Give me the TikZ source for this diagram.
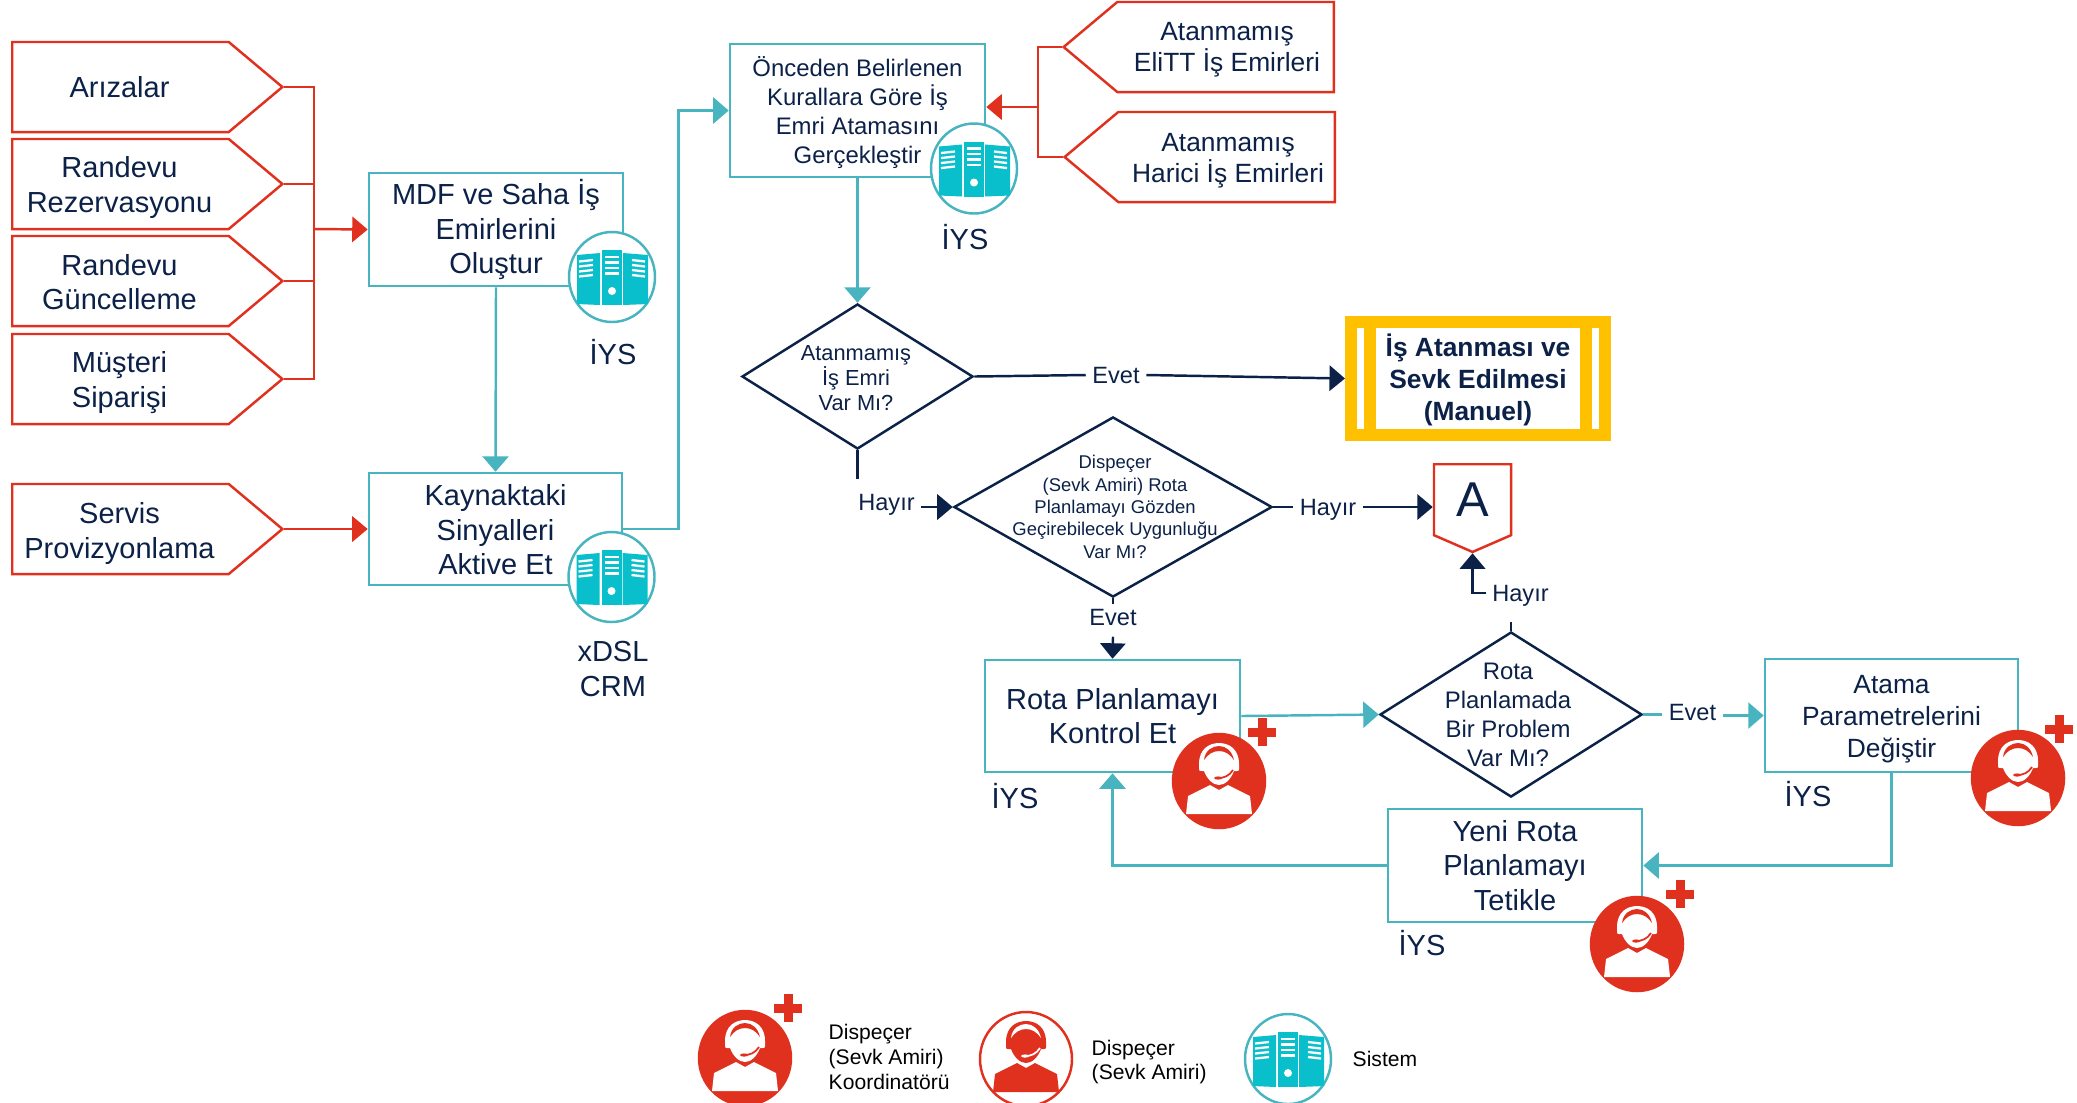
\documentclass[tikz,border=0pt]{standalone}
\usepackage{fontspec}
\setmainfont{Liberation Sans}
\usetikzlibrary{arrows.meta,shapes.geometric,shapes.symbols}

\definecolor{redLine}{HTML}{E0301E}
\definecolor{tealLine}{HTML}{48B4C0}
\definecolor{tealIcon}{HTML}{0ABFCC}
\definecolor{navyLine}{HTML}{0B2148}
\definecolor{yellowBox}{HTML}{FFC000}

\tikzset{
	tagbox/.style={shape=signal,draw=redLine,line width=.7pt,fill=white,minimum height=.9cm,minimum width=2.7cm,
		signal pointer angle=80},
	tagtext/.style={text=navyLine,align=center,inner sep=0pt,font=\fontsize{8.25pt}{9.8pt}\selectfont},
	stepbox/.style={draw=tealLine,line width=.7pt,fill=white,text=navyLine,align=center,inner sep=0pt,
		font=\fontsize{8.25pt}{9.8pt}\selectfont},
	decision/.style={shape=diamond,draw=navyLine,line width=.7pt,inner sep=0pt},
	decisiontext/.style={text=navyLine,align=center,inner sep=0pt},
	edgelabel/.style={text=navyLine,inner xsep=.06cm,inner ysep=0pt,minimum height=.5cm,
		font=\fontsize{6.7pt}{8pt}\selectfont},
	systemlabel/.style={text=navyLine,align=center,font=\fontsize{8.25pt}{9.8pt}\selectfont},
	legendlabel/.style={text=black,align=left,anchor=west,inner sep=0pt,font=\fontsize{6pt}{7.1pt}\selectfont},
	tealline/.style={draw=tealLine,line width=.7pt},
	tealarrow/.style={tealline,-{Triangle[length=4.4pt,width=7.4pt]}},
	redline/.style={draw=redLine,line width=.7pt},
	redarrow/.style={redline,-{Triangle[length=4.4pt,width=7.2pt]}},
	navyline/.style={draw=navyLine,line width=.7pt},
	navyarrow/.style={navyline,-{Triangle[length=4.4pt,width=7.2pt]}}
}

\begin{document}
\begin{tikzpicture}[x=.01cm,y=-.01cm]
	\newcommand{\serverIcon}[2]{
		\begin{scope}[shift={(#1,#2)}]
			\filldraw[draw=tealLine,fill=white,line width=.7pt] (0,0) ellipse [x radius=43,y radius=45];
			\fill[tealIcon] (-35,-22) -- (-12,-24) -- (-12,28) -- (-35,27) -- cycle;
			\fill[tealIcon] (-10,-27) rectangle (10,28);
			\fill[tealIcon] (11,-24) -- (36,-22) -- (36,27) -- (11,28) -- cycle;
			\draw[white,line width=.65pt] (-7,-20)--(7,-20) (-7,-14.5)--(7,-14.5) (-7,-9)--(7,-9) (-7,-3.5)--(7,-3.5);
			\draw[white,line width=.65pt] (-33,-15.5)--(-19,-17) (-33,-10.5)--(-19,-12) (-33,-5.5)--(-19,-7) (-33,-.5)--(-19,-2);
			\draw[white,line width=.65pt] (20,-17)--(33,-15.5) (20,-12)--(33,-10.5) (20,-7)--(33,-5.5) (20,-2)--(33,-.5);
			\fill[white] (0,14) circle (4);
		\end{scope}
	}
	\newcommand{\agentIcon}[4]{
		\begin{scope}[shift={(#1,#2)}]
			\filldraw[draw=redLine,fill=#3,line width=.7pt] (0,0) ellipse [x radius=46,y radius=47];
			% body
			\fill[#4] (-33,33) -- (-31,15) -- (-9,4) -- (0,9) -- (9,4) -- (31,15) -- (33,33) -- cycle;
			% head and ear pads
			\fill[#4] (-20,-17) .. controls (-20,-32) and (-10,-38) .. (0,-38) .. controls (10,-38) and (20,-32) .. (20,-17)
				-- (20,-12) .. controls (20,-10) .. (15,-10) .. controls (12,-2) and (6,4) .. (0,4)
				.. controls (-6,4) and (-12,-2) .. (-15,-10) .. controls (-20,-10) .. (-20,-12) -- cycle;
			% headband and mic
			\fill[#3] (-15,-21) .. controls (-14,-31) and (-6,-35) .. (0,-35) .. controls (7,-35) and (13,-30) .. (15,-21)
				.. controls (11,-27) and (6,-30) .. (0,-30) .. controls (-6,-30) and (-11,-27) .. cycle;
			\draw[#3,line width=.5pt] (14,-11) .. controls (10,-5) and (5,-3) .. (-1,-3);
			\fill[#3] (-1,-3) ellipse [x radius=4,y radius=1.6];
		\end{scope}
	}
	\newcommand{\redPlus}[2]{
		\begin{scope}[shift={(#1,#2)}]
			\fill[redLine] (-14,-4.5) rectangle (14,4.5);
			\fill[redLine] (-4.5,-14) rectangle (4.5,14);
		\end{scope}
	}

	\clip (0,0) rectangle (2077,1102);

	% left tags
	\node[tagbox,signal to=east,anchor=west] (arizalar) at (11,87) {};
	\node[tagtext] (arizalar_text) at (119.5,87) {Arızalar};
	\node[tagbox,signal to=east,anchor=west] (rezervasyon) at (11,184) {};
	\node[tagtext] (rezervasyon_text) at (119.5,187.5) {Randevu\\Rezervasyonu};
	\node[tagbox,signal to=east,anchor=west] (guncelleme) at (11,281) {};
	\node[tagtext] (guncelleme_text) at (119.5,282) {Randevu\\Güncelleme};
	\node[tagbox,signal to=east,anchor=west] (siparis) at (11,379) {};
	\node[tagtext] (siparis_text) at (119.5,382.5) {Müşteri\\Siparişi};
	\node[tagbox,signal to=east,anchor=west] (servis) at (11,529) {};
	\node[tagtext] (servis_text) at (119.5,533.5) {Servis\\Provizyonlama};

	% right tags
	\node[tagbox,signal to=west,anchor=east] (elitt) at (1335,47) {};
	\node[tagtext,font=\fontsize{7.5pt}{8.7pt}\selectfont] (elitt_text) at (1227,49.5) {Atanmamış\\EliTT İş Emirleri};
	\node[tagbox,signal to=west,anchor=east] (harici) at (1336,157) {};
	\node[tagtext,font=\fontsize{7.5pt}{8.7pt}\selectfont] (harici_text) at (1228,160.5) {Atanmamış\\Harici İş Emirleri};

	% steps
	\node[stepbox,minimum width=2.54cm,minimum height=1.13cm] (mdf) at (496,229.5) {MDF ve Saha İş\\Emirlerini\\Oluştur};
	\node[stepbox,minimum width=2.53cm,minimum height=1.12cm] (kaynak) at (495.5,529) {};
	\node[tagtext] (kaynak_text) at (495.5,530) {Kaynaktaki\\Sinyalleri\\Aktive Et};
	\node[stepbox,minimum width=2.55cm,minimum height=1.33cm] (kural) at (857.5,110.5) {};
	\node[decisiontext,font=\fontsize{6.8pt}{8.2pt}\selectfont] (kural_text) at (857.5,112.5) {Önceden Belirlenen\\Kurallara Göre İş\\Emri Atamasını\\Gerçekleştir};
	\node[stepbox,minimum width=2.55cm,minimum height=1.12cm] (kontrol) at (1112.5,716) {Rota Planlamayı\\Kontrol Et};
	\node[stepbox,minimum width=2.53cm,minimum height=1.13cm] (atama) at (1891.5,715.5) {};
	\node[decisiontext,font=\fontsize{7.5pt}{9.1pt}\selectfont] (atama_text) at (1891.5,719) {Atama\\Parametrelerini\\Değiştir};
	\node[stepbox,minimum width=2.54cm,minimum height=1.13cm] (tetikle) at (1515,865.5) {Yeni Rota\\Planlamayı\\Tetikle};

	% decisions
	\node[decision,minimum width=2.31cm,minimum height=1.45cm] (is_emri) at (857.5,376.5) {};
	\node[decisiontext,font=\fontsize{6.2pt}{7.1pt}\selectfont] (is_emri_text) at (856,378) {Atanmamış\\İş Emri\\Var Mı?};
	\node[decision,minimum width=3.18cm,minimum height=1.8cm] (uygunluk) at (1113,507) {};
	\node[decisiontext,font=\fontsize{5.25pt}{6.35pt}\selectfont] (uygunluk_text) at (1115,507) {Dispeçer\\(Sevk Amiri) Rota\\Planlamayı Gözden\\Geçirebilecek Uygunluğu\\Var Mı?};
	\node[decision,minimum width=2.62cm,minimum height=1.65cm] (problem) at (1511,714.5) {};
	\node[decisiontext,font=\fontsize{6.8pt}{8.25pt}\selectfont] (problem_text) at (1508,715) {Rota\\Planlamada\\Bir Problem\\Var Mı?};

	% manual step
	\node[draw=yellowBox,line width=3.4pt,fill=white,minimum width=2.54cm,minimum height=1.13cm] (manuel) at (1478,378.5) {};
	\fill[yellowBox] (1364,328) rectangle (1376,429);
	\fill[yellowBox] (1580,328) rectangle (1592,429);
	\node[text=navyLine,align=center,inner sep=0pt,font=\bfseries\fontsize{7.5pt}{9.1pt}\selectfont] (manuel_text) at (1478,380) {İş Atanması ve\\Sevk Edilmesi\\(Manuel)};

	% off page mark
	\node[shape=signal,signal to=south,signal pointer angle=133,draw=redLine,line width=.7pt,fill=white,
		minimum width=.77cm,minimum height=.76cm,anchor=north] (mark_a) at (1472.5,463) {};
	\node[text=navyLine,inner sep=0pt,font=\fontsize{13.9pt}{15pt}\selectfont] (mark_a_text) at (1472.5,500) {A};

	% edge labels
	\node[edgelabel] (evet_manuel) at (1116,375) {Evet};
	\node[edgelabel] (hayir_left) at (886.5,504.5) {Hayır};
	\node[edgelabel] (hayir_right) at (1328,509.5) {Hayır};
	\node[edgelabel] (hayir_up) at (1520.5,596) {Hayır};
	\node[edgelabel,minimum height=.24cm] (evet_down) at (1113,617) {Evet};
	\node[edgelabel] (evet_right) at (1692.5,712) {Evet};

	\coordinate (left_bus) at (314,229);
	\coordinate (right_bus) at (1038,107);

	% red connectors
	\draw[redline] (arizalar.east) -| (left_bus);
	\draw[redline] (rezervasyon.east) -| (left_bus);
	\draw[redline] (guncelleme.east) -| (left_bus);
	\draw[redline] (siparis.east) -| (left_bus);
	\draw[redarrow] (left_bus) -- (mdf.west);
	\draw[redarrow] (servis.east) -- (kaynak.west);
	\draw[redline] (elitt.west) -| (right_bus);
	\draw[redline] (harici.west) -| (right_bus);
	\draw[redarrow] (right_bus) -- (kural.east |- right_bus);

	% teal connectors
	\draw[tealarrow] (mdf.south) -- (kaynak.north);
	\draw[tealarrow] (kaynak.east) -- ++(55,0) |- (kural.west);
	\draw[tealarrow] (kural.south) -- (is_emri.north);
	\draw[tealarrow] (kontrol.east) -- (problem.west);
	\draw[tealline] (problem.east) -- (evet_right.west |- problem.east);
	\draw[tealarrow] (evet_right.east |- atama.west) -- (atama.west);
	\draw[tealarrow] (atama.south) |- (tetikle.east);
	\draw[tealarrow] (tetikle.west) -| (kontrol.south);

	% navy connectors
	\draw[navyline] (is_emri.east) -- (evet_manuel.west);
	\draw[navyarrow] (evet_manuel.east) -- (manuel.west);
	\draw[navyline] (is_emri.south) -- (is_emri.south |- hayir_left.north);
	\draw[navyarrow] (hayir_left.east |- uygunluk.west) -- (uygunluk.west);
	\draw[navyline] (uygunluk.east) -- (hayir_right.west |- uygunluk.east);
	\draw[navyarrow] (hayir_right.east |- uygunluk.east) -- (mark_a.west |- uygunluk.east);
	\draw[navyline] (uygunluk.south) -- (evet_down.north);
	\draw[navyarrow] ([yshift=-.07cm]evet_down.south) -- (kontrol.north);
	\draw[navyline] (problem.north) -- (problem.north |- hayir_up.south);
	\draw[navyarrow] ([yshift=.03cm]hayir_up.west) -| (mark_a.south);

	% icons
	\serverIcon{612}{277}
	\serverIcon{611.5}{577}
	\serverIcon{974}{168.5}
	\agentIcon{1219}{781}{redLine}{white}
	\redPlus{1262}{732}
	\agentIcon{2018}{778}{redLine}{white}
	\redPlus{2059}{729}
	\agentIcon{1637}{944}{redLine}{white}
	\redPlus{1680}{894}

	% system labels
	\node[systemlabel] (iys_mdf) at (613,352) {İYS};
	\node[systemlabel] (crm_kaynak) at (613,669) {xDSL\\CRM};
	\node[systemlabel] (iys_kural) at (965,237.5) {İYS};
	\node[systemlabel] (iys_kontrol) at (1015,796.5) {İYS};
	\node[systemlabel] (iys_atama) at (1808,794.5) {İYS};
	\node[systemlabel] (iys_tetikle) at (1422,943.5) {İYS};

	% legend
	\agentIcon{745}{1058}{redLine}{white}
	\redPlus{788}{1008}
	\node[legendlabel] (legend_koordinator) at (828,1057) {Dispeçer\\(Sevk Amiri)\\Koordinatörü};
	\agentIcon{1026}{1059}{white}{redLine}
	\node[legendlabel] (legend_dispecer) at (1091,1062) {Dispeçer\\(Sevk Amiri)};
	\serverIcon{1288}{1059}
	\node[legendlabel] (legend_sistem) at (1352,1059) {Sistem};
\end{tikzpicture}
\end{document}
